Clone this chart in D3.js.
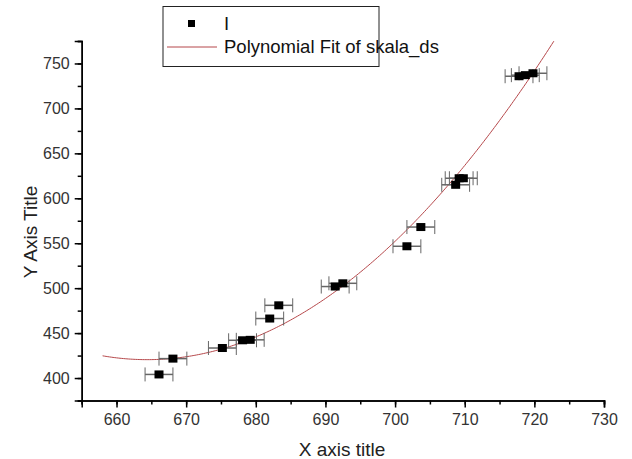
<!DOCTYPE html>
<html>
<head>
<meta charset="utf-8">
<script src="https://cdn.jsdelivr.net/npm/d3@7"></script>
<style>
  body { margin: 0; background: #fff; }
  svg { font-family: "Liberation Sans", Arial, sans-serif; }
</style>
</head>
<body>
<svg width="632" height="459"></svg>
<script>
// --- Data ---
const xVals = [666.1, 668.1, 675.2, 678.1, 679.2, 682.0, 683.3, 691.4, 692.5, 701.7, 703.7, 708.7, 709.2, 709.8, 717.8, 718.7, 719.8];
const yVals = [404.0, 421.6, 433.4, 442.0, 442.5, 466.2, 480.9, 501.8, 505.4, 546.6, 568.0, 615.0, 622.3, 622.3, 735.8, 737.0, 739.1];
const xErr = 2;
const fitRange = [658, 724];
const xTicks = [660, 670, 680, 690, 700, 710, 720, 730];
const yTicks = [400, 450, 500, 550, 600, 650, 700, 750];
const legendLabels = ['I', 'Polynomial Fit of skala_ds'];

const svg = d3.select('svg');

const x = d3.scaleLinear().domain([655, 730]).range([81.7, 604]);
const y = d3.scaleLinear().domain([375, 775]).range([400.5, 41]);

// --- quadratic least squares fit ---
function polyFit2(xs, ys) {
  const x0 = d3.mean(xs);
  let S = [[0,0,0],[0,0,0],[0,0,0]], b = [0,0,0];
  xs.forEach((xv, i) => {
    const t = xv - x0, p = [1, t, t * t];
    for (let r = 0; r < 3; r++) {
      b[r] += p[r] * ys[i];
      for (let c = 0; c < 3; c++) S[r][c] += p[r] * p[c];
    }
  });
  // gaussian elimination
  for (let k = 0; k < 3; k++) {
    for (let r = k + 1; r < 3; r++) {
      const f = S[r][k] / S[k][k];
      for (let c = k; c < 3; c++) S[r][c] -= f * S[k][c];
      b[r] -= f * b[k];
    }
  }
  const a = [0,0,0];
  for (let r = 2; r >= 0; r--) {
    let s = b[r];
    for (let c = r + 1; c < 3; c++) s -= S[r][c] * a[c];
    a[r] = s / S[r][r];
  }
  return xv => { const t = xv - x0; return a[0] + a[1] * t + a[2] * t * t; };
}
const fit = polyFit2(xVals, yVals);
const fitPts = d3.range(fitRange[0], fitRange[1] + 0.01, 0.25).map(v => [v, fit(v)]);

// --- clip ---
svg.append('clipPath').attr('id', 'plot-clip')
  .append('rect')
  .attr('x', x(655)).attr('y', y(775))
  .attr('width', x(730) - x(655)).attr('height', y(375) - y(775));

// --- Axes ---
const xMinor = svg.append('g').attr('transform', `translate(0,${y(375)})`)
  .call(d3.axisBottom(x).tickValues(d3.range(655, 731, 5)).tickSize(4).tickFormat(''));
const xAxis = svg.append('g').attr('transform', `translate(0,${y(375)})`)
  .call(d3.axisBottom(x).tickValues(xTicks).tickSize(7).tickPadding(6).tickFormat(d3.format('d')));
const yMinor = svg.append('g').attr('transform', `translate(${x(655)},0)`)
  .call(d3.axisLeft(y).tickValues(d3.range(375, 776, 25)).tickSize(4).tickFormat(''));
const yAxis = svg.append('g').attr('transform', `translate(${x(655)},0)`)
  .call(d3.axisLeft(y).tickValues(yTicks).tickSize(7).tickPadding(5).tickFormat(d3.format('d')));

[xMinor, xAxis, yMinor, yAxis].forEach(g => {
  g.select('.domain').attr('stroke', '#000').attr('stroke-width', 1.5);
  g.selectAll('.tick line').attr('stroke', '#000').attr('stroke-width', 1.5);
  g.selectAll('.tick text').attr('font-size', 16).attr('fill', '#333')
    .attr('font-family', '"Liberation Sans", Arial, sans-serif');
});

// --- Axis titles ---
svg.append('text')
  .attr('x', 342).attr('y', 456)
  .attr('text-anchor', 'middle')
  .attr('font-size', 19).attr('fill', '#222')
  .text('X axis title');

svg.append('text')
  .attr('transform', 'translate(37,232) rotate(-90)')
  .attr('text-anchor', 'middle')
  .attr('font-size', 19).attr('fill', '#222')
  .text('Y Axis Title');

// --- Fit curve ---
svg.append('path')
  .datum(fitPts)
  .attr('clip-path', 'url(#plot-clip)')
  .attr('fill', 'none')
  .attr('stroke', '#b5474a')
  .attr('stroke-width', 1)
  .attr('d', d3.line().x(d => x(d[0])).y(d => y(d[1])));

// --- Error bars ---
const pts = xVals.map((v, i) => ({ x: v, y: yVals[i] }));
const eb = svg.append('g').attr('class', 'errorbars');
pts.forEach(d => {
  const cy = y(d.y), x1 = x(d.x - xErr), x2 = x(d.x + xErr);
  eb.append('line')
    .attr('x1', x1).attr('x2', x2).attr('y1', cy).attr('y2', cy)
    .attr('stroke', '#666').attr('stroke-width', 1.5);
  [x1, x2].forEach(cx => {
    eb.append('line')
      .attr('x1', cx).attr('x2', cx).attr('y1', cy - 7).attr('y2', cy + 7)
      .attr('stroke', '#666').attr('stroke-width', 1);
  });
});

// --- Points ---
svg.append('g').selectAll('rect')
  .data(pts)
  .join('rect')
  .attr('x', d => x(d.x) - 4.5)
  .attr('y', d => y(d.y) - 4)
  .attr('width', 9)
  .attr('height', 8)
  .attr('fill', '#000');

// --- Legend ---
const legend = svg.append('g');
legend.append('rect')
  .attr('x', 163).attr('y', 6.5).attr('width', 216).attr('height', 60)
  .attr('fill', '#fff').attr('stroke', '#222').attr('stroke-width', 1);
legend.append('rect')
  .attr('x', 188).attr('y', 20).attr('width', 7).attr('height', 7).attr('fill', '#000');
legend.append('line')
  .attr('x1', 167).attr('x2', 217).attr('y1', 47).attr('y2', 47)
  .attr('stroke', '#b5474a').attr('stroke-width', 1);
legend.selectAll('text')
  .data(legendLabels)
  .join('text')
  .attr('x', 224)
  .attr('y', (d, i) => 30 + i * 23)
  .attr('font-size', 18.5)
  .attr('fill', '#111')
  .text(d => d);
</script>
</body>
</html>
